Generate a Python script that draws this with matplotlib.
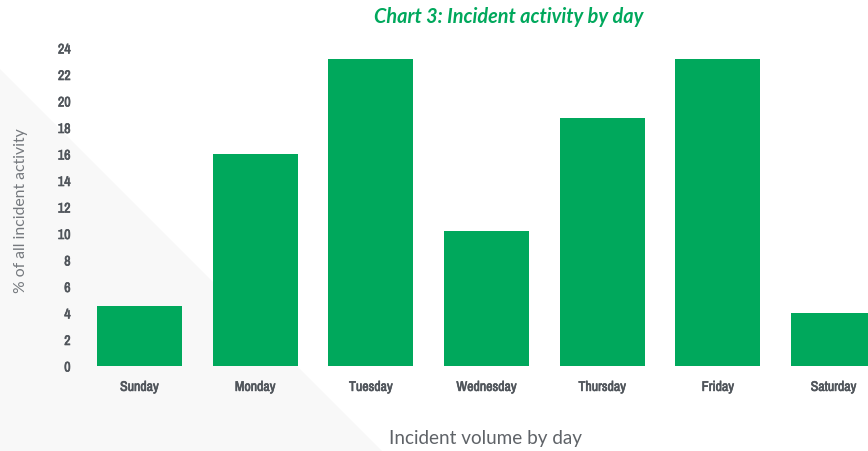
import matplotlib
matplotlib.use("Agg")
import matplotlib.pyplot as plt
from matplotlib.patches import Polygon
from matplotlib import font_manager
import matplotlib.patheffects as pe

days = ["Sunday", "Monday", "Tuesday", "Wednesday", "Thursday", "Friday", "Saturday"]
share = [4.5, 16.0, 23.2, 10.2, 18.7, 23.2, 4.0]
yticks = list(range(0, 25, 2))

GREEN = "#00a85c"
GREY = "#50555b"

installed = sorted({f.name for f in font_manager.fontManager.ttflist})
narrow_candidates = [n for n in installed if "Narrow" in n or "Condensed" in n]
narrow = narrow_candidates[0] if narrow_candidates else "Roboto"

W, H = 868, 452
fig = plt.figure(figsize=(W / 100, H / 100), dpi=100)
fig.patch.set_facecolor("white")

# soft grey wedge in the lower-left corner, behind everything
bg = fig.add_axes([0, 0, 1, 1], zorder=-5)
bg.set_xlim(0, W)
bg.set_ylim(H, 0)
bg.axis("off")
bg.add_patch(Polygon([(0, 70), (0, H), (382, H)], closed=True,
                     facecolor="#f8f8f8", edgecolor="none"))

left_px, zero_px, top_px = 81.6, 367, 49
step = 115.7
ax = fig.add_axes([left_px / W, (H - zero_px) / H,
                   7 * step / W, (zero_px - top_px) / H], zorder=1)
ax.set_facecolor("none")

ax.bar(range(len(days)), share, width=0.735, color=GREEN, zorder=2)
ax.set_xlim(-0.5, 6.5)
ax.set_ylim(0, 24)
ax.set_yticks(yticks)
ax.set_xticks(range(len(days)))
ax.set_xticklabels(days)

for s in ax.spines.values():
    s.set_visible(False)
ax.tick_params(axis="both", length=0, colors=GREY)
ax.tick_params(axis="y", pad=8)
ax.tick_params(axis="x", pad=10)
# slightly heavier tick labels
heavier = [pe.withStroke(linewidth=0.45, foreground=GREY)]
for lab in ax.get_yticklabels() + ax.get_xticklabels():
    lab.set_fontfamily(narrow)
    lab.set_fontsize(10)
    lab.set_fontweight("medium")
    lab.set_color(GREY)
    lab.set_path_effects(heavier)

fig.text(509 / W, 1 - 17 / H, "Chart 3: Incident activity by day",
         ha="center", va="center", color=GREEN, fontsize=14.3,
         fontweight="bold", fontstyle="italic", family="Lato")
fig.text(21 / W, 1 - 211 / H, "% of all incident activity", rotation=90,
         ha="center", va="center", color="#75797e", fontsize=11.3,
         family="Lato", fontweight="normal")
fig.text(486 / W, 1 - 439 / H, "Incident volume by day",
         ha="center", va="center", color="#5f6368", fontsize=13.6,
         family="Lato", fontweight="normal")

fig.savefig("out.png", dpi=100)
